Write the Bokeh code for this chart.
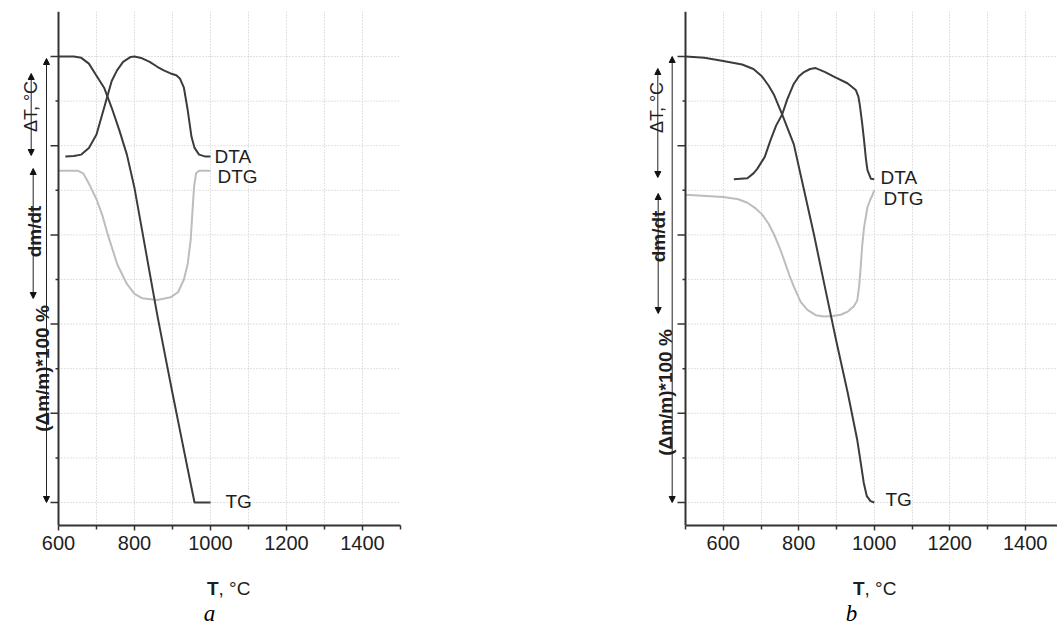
import math
from bokeh.plotting import figure
from bokeh.layouts import row, column
from bokeh.models import Label, Arrow, NormalHead, FixedTicker, Range1d, Span, Grid
from bokeh.embed import file_html
from bokeh.resources import INLINE

# ---------------- data ----------------
X_TICKS = [600, 800, 1000, 1200, 1400]
X_MINOR_A = [700, 900, 1100, 1300, 1500]
X_MINOR_B = [500, 700, 900, 1100, 1300]
X_GRID_A = [700, 800, 900, 1000, 1100, 1200, 1300, 1400]
X_GRID_B = [600, 700, 800, 900, 1000, 1100, 1200, 1300, 1400]
Y_MAJOR = [0, 2, 4, 6, 8, 10]
Y_MINOR = [1, 3, 5, 7, 9]
Y_GRID = [0, 1, 2, 3, 4, 5, 6, 7, 8, 9, 10]

# panel a
TG_A_T = [600, 640, 660, 680, 700, 720, 740, 760, 780, 800, 820, 840, 860, 880, 900, 920, 940, 958, 1000]
TG_A = [10.0, 10.0, 9.97, 9.84, 9.57, 9.3, 8.85, 8.35, 7.8, 7.05, 6.1, 5.15, 4.2, 3.32, 2.45, 1.6, 0.75, 0.0, 0.0]
DTA_A_T = [618, 640, 660, 680, 700, 715, 740, 754, 770, 790, 800, 820, 840, 860, 877, 895, 910, 920, 930, 940, 950, 958, 970, 985, 1000]
DTA_A = [7.76, 7.77, 7.8, 7.95, 8.25, 8.7, 9.45, 9.69, 9.88, 9.99, 10.0, 9.96, 9.88, 9.77, 9.69, 9.62, 9.58, 9.5, 9.3, 8.8, 8.2, 7.95, 7.8, 7.76, 7.76]
DTG_A_T = [600, 650, 665, 680, 700, 715, 730, 755, 780, 800, 820, 860, 895, 915, 930, 940, 948, 953, 957, 962, 970, 1000]
DTG_A = [7.44, 7.44, 7.38, 7.15, 6.8, 6.45, 6.0, 5.33, 4.9, 4.68, 4.58, 4.54, 4.6, 4.72, 5.0, 5.35, 5.9, 6.6, 7.1, 7.38, 7.44, 7.44]

# panel b
TG_B_T = [500, 550, 600, 650, 680, 703, 720, 734, 756, 787, 810, 840, 870, 900, 930, 955, 965, 972, 980, 990, 1000]
TG_B = [10.0, 9.97, 9.9, 9.82, 9.72, 9.55, 9.35, 9.15, 8.7, 8.03, 7.16, 6.02, 4.8, 3.6, 2.45, 1.4, 0.85, 0.45, 0.15, 0.03, 0.0]
DTA_B_T = [628, 664, 680, 690, 710, 725, 740, 756, 770, 787, 800, 814, 830, 845, 870, 893, 929, 951, 958, 962, 968, 973, 978, 982, 991, 1000]
DTA_B = [7.25, 7.27, 7.38, 7.48, 7.75, 8.12, 8.45, 8.7, 9.05, 9.39, 9.55, 9.65, 9.72, 9.74, 9.65, 9.55, 9.4, 9.25, 9.1, 8.9, 8.5, 8.12, 7.7, 7.45, 7.26, 7.25]
DTG_B_T = [500, 600, 640, 664, 685, 703, 720, 734, 750, 761, 775, 787, 805, 823, 845, 867, 890, 911, 930, 946, 955, 960, 964, 968, 973, 982, 990, 995, 1000]
DTG_B = [6.9, 6.85, 6.8, 6.72, 6.6, 6.46, 6.25, 6.02, 5.7, 5.44, 5.1, 4.84, 4.5, 4.32, 4.2, 4.17, 4.18, 4.21, 4.28, 4.4, 4.53, 4.85, 5.27, 5.75, 6.17, 6.62, 6.8, 6.89, 7.0]

# ---------------- style / layout ----------------
SANS = "Liberation Sans"
SERIF = "Liberation Serif"
DARK = "#3c3c3c"
LIGHT = "#bdbdbd"
GRID = "#c4c4c4"
AXIS = "#333333"
TXT = "#1e1e1e"

WIN_W, WIN_H = 1057, 625
FRAME_TOP = 11
FRAME_BOT = 525
ZERO_PX = 502.0
UNIT_PX = 44.6
MAIN_H = 565


def yd(py):
    return (ZERO_PX - py) / UNIT_PX


def hide_default_ygrid(p):
    for r in list(p.center):
        if isinstance(r, Grid) and r.dimension == 1:
            r.visible = False


def make_panel(cfg):
    ppu = cfg["ppu"]

    def xd(px):
        return cfg["axis_T"] + (px - cfg["axis_px"]) / ppu

    frame_left = cfg["canvas_left"] + cfg["border_left"]
    frame_w = cfg["frame_right"] - frame_left
    border_right = cfg["canvas_w"] - cfg["border_left"] - frame_w
    frame_h = FRAME_BOT - FRAME_TOP
    p = figure(
        title=None,
        frame_width=frame_w, frame_height=frame_h,
        x_range=Range1d(xd(frame_left), xd(cfg["frame_right"])),
        y_range=Range1d(yd(FRAME_BOT), yd(FRAME_TOP)),
        y_axis_location=None,
        output_backend="svg", toolbar_location=None,
    )
    p.min_border_left = cfg["border_left"]
    p.min_border_right = border_right
    p.min_border_top = FRAME_TOP
    p.min_border_bottom = MAIN_H - FRAME_TOP - frame_h
    p.outline_line_color = None
    p.background_fill_color = "white"
    p.border_fill_color = "white"
    hide_default_ygrid(p)

    x0 = cfg["axis_T"]
    # x axis
    xa = p.xaxis[0]
    xa.ticker = FixedTicker(ticks=X_TICKS, minor_ticks=cfg["x_minor"])
    xa.bounds = (x0, 1500)
    xa.axis_line_color = AXIS
    xa.axis_line_width = 2
    xa.major_tick_line_color = AXIS
    xa.minor_tick_line_color = AXIS
    xa.major_tick_line_width = 1.5
    xa.minor_tick_line_width = 1.5
    xa.major_tick_out = 5
    xa.major_tick_in = 0
    xa.minor_tick_out = 4
    xa.minor_tick_in = 0
    xa.major_label_standoff = 5
    xa.major_label_text_font = SANS
    xa.major_label_text_font_size = "20px"
    xa.major_label_text_color = TXT

    # vertical grid
    p.xgrid.ticker = FixedTicker(ticks=cfg["x_grid"])
    p.xgrid.grid_line_color = GRID
    p.xgrid.grid_line_width = 1
    p.xgrid.grid_line_dash = "1 2"

    # horizontal grid, starting at the y axis and running to the right end
    p.segment(x0=[x0] * len(Y_GRID), y0=Y_GRID, x1=[1500] * len(Y_GRID), y1=Y_GRID,
              line_color=GRID, line_width=1, line_dash="1 2")

    # y axis line and its ticks (no tick labels in the reference)
    p.add_layout(Span(location=x0, dimension="height", line_color=AXIS, line_width=2))
    p.segment(x0=[x0 - 8 / ppu] * len(Y_MAJOR), y0=Y_MAJOR, x1=[x0] * len(Y_MAJOR), y1=Y_MAJOR,
              line_color=AXIS, line_width=1.5)
    p.segment(x0=[x0 - 3 / ppu] * len(Y_MINOR), y0=Y_MINOR, x1=[x0] * len(Y_MINOR), y1=Y_MINOR,
              line_color=AXIS, line_width=1.5)

    # curves
    p.line(cfg["dtg"][0], cfg["dtg"][1], line_color=LIGHT, line_width=2, line_join="round")
    p.line(cfg["dta"][0], cfg["dta"][1], line_color=DARK, line_width=2, line_join="round")
    p.line(cfg["tg"][0], cfg["tg"][1], line_color=DARK, line_width=2, line_join="round")

    # curve names
    for txt, (px, py) in cfg["names"].items():
        p.add_layout(Label(x=xd(px), y=yd(py), text=txt, text_font=SANS, text_font_size="19px",
                           text_color=TXT, text_align="left", text_baseline="middle"))

    # double arrows on the left
    for (px, py0, py1) in cfg["arrows"]:
        p.add_layout(Arrow(
            start=NormalHead(size=6, fill_color="#111111", line_color="#111111", line_width=1),
            end=NormalHead(size=6, fill_color="#111111", line_color="#111111", line_width=1),
            x_start=xd(px), y_start=yd(py0), x_end=xd(px), y_end=yd(py1),
            line_color="#222222", line_width=1))

    # rotated quantity labels
    for (txt, px, py, style, size) in cfg["ylabels"]:
        p.add_layout(Label(x=xd(px), y=yd(py), text=txt, angle=math.pi / 2,
                           text_font=SANS, text_font_size=size, text_font_style=style,
                           text_color=TXT, text_align="center", text_baseline="alphabetic"))
    return p


cfg_a = dict(
    axis_px=58, axis_T=600, ppu=0.38, canvas_left=0, canvas_w=620, border_left=4, frame_right=400,
    x_minor=X_MINOR_A, x_grid=X_GRID_A,
    tg=(TG_A_T, TG_A), dta=(DTA_A_T, DTA_A), dtg=(DTG_A_T, DTG_A),
    names={"DTA": (214, 156), "DTG": (217, 176), "TG": (225, 501)},
    arrows=[(30.7, 73, 155), (32.7, 168, 298), (46, 58, 502)],
    ylabels=[("ΔT, °C", 30.5, 106, "normal", "18px"),
             ("dm/dt", 33.5, 231, "bold", "19px"),
             ("(Δm/m)*100 %", 41.5, 368, "bold", "19px")],
)

cfg_b = dict(
    axis_px=685, axis_T=500, ppu=0.3775, canvas_left=620, canvas_w=437, border_left=4, frame_right=1057,
    x_minor=X_MINOR_B, x_grid=X_GRID_B,
    tg=(TG_B_T, TG_B), dta=(DTA_B_T, DTA_B), dtg=(DTG_B_T, DTG_B),
    names={"DTA": (880, 177), "DTG": (883, 198), "TG": (885, 499)},
    arrows=[(657.3, 68, 177), (657.7, 193, 313), (671.7, 56, 502)],
    ylabels=[("ΔT, °C", 656.5, 107, "normal", "18px"),
             ("dm/dt", 657.5, 236, "bold", "19px"),
             ("(Δm/m)*100 %", 664.5, 392, "bold", "19px")],
)

pa = make_panel(cfg_a)
pb = make_panel(cfg_b)

# bottom strip holding the axis titles and the sub-figure letters
strip_h = WIN_H - MAIN_H
ps = figure(title=None, frame_width=WIN_W, frame_height=strip_h,
            x_range=Range1d(0, WIN_W), y_range=Range1d(WIN_H, MAIN_H),
            x_axis_location=None, y_axis_location=None,
            output_backend="svg", toolbar_location=None)
ps.min_border = 0
ps.min_border_left = 0
ps.min_border_right = 0
ps.min_border_top = 0
ps.min_border_bottom = 0
ps.outline_line_color = None
ps.grid.visible = False

TITLES = [(218, "a", 209), (864, "b", 851)]
for split_px, letter, letter_px in TITLES:
    ps.add_layout(Label(x=split_px, y=588, text="T", text_font=SANS, text_font_size="19px",
                        text_font_style="bold", text_color=TXT, text_align="right",
                        text_baseline="alphabetic"))
    ps.add_layout(Label(x=split_px, y=588, text=", °C", text_font=SANS, text_font_size="19px",
                        text_color=TXT, text_align="left", text_baseline="alphabetic"))
    ps.add_layout(Label(x=letter_px, y=613, text=letter, text_font=SERIF, text_font_size="23px",
                        text_font_style="italic", text_color="#000000", text_align="center",
                        text_baseline="alphabetic"))

layout = column(row(pa, pb, spacing=0), ps, spacing=0)

open("out.html", "w").write(file_html(layout, INLINE))
